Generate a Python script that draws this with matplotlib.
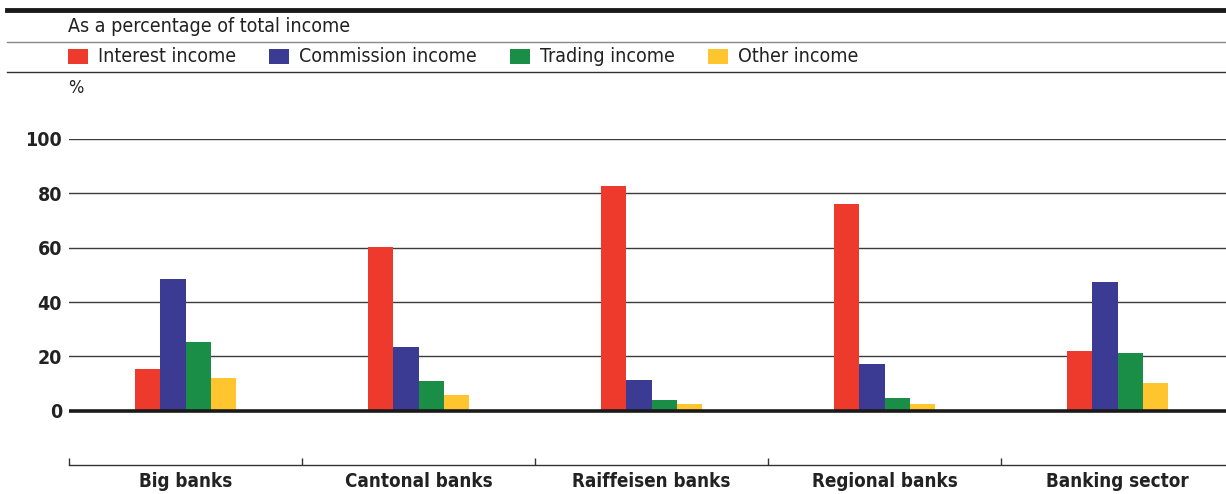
import matplotlib
matplotlib.use('Agg')
import matplotlib.pyplot as plt
from matplotlib.lines import Line2D
from matplotlib.patches import Rectangle
import numpy as np

plt.rcParams['font.family'] = ['DejaVu Sans']
plt.rcParams['font.stretch'] = 'condensed'

categories = ['Big banks', 'Cantonal banks', 'Raiffeisen banks', 'Regional banks', 'Banking sector']
series_names = ['Interest income', 'Commission income', 'Trading income', 'Other income']
interest = [15.3, 60.4, 82.6, 76.0, 22.0]
commission = [48.3, 23.5, 11.4, 17.2, 47.3]
trading = [25.3, 11.0, 4.0, 4.8, 21.3]
other = [12.0, 5.9, 2.5, 2.6, 10.0]
colors = ['#ee3a2c', '#3b3b93', '#1a8e47', '#ffc52f']
y_ticks = [0, 20, 40, 60, 80, 100]

W, H = 1226, 494
fig = plt.figure(figsize=(W / 100, H / 100), dpi=100)


def fx(px):
    return px / W


def fy(py):
    return 1 - py / H


# plot area: 0 at y=411, 100 at y=139, category axis at -20
ax = fig.add_axes([fx(69), fy(465), fx(1234 - 69), fy(139) - fy(465)])
ax.set_xlim(-0.5, len(categories) - 0.5)
ax.set_ylim(-20, 100)

x = np.arange(len(categories))
width = 0.109
for i, (vals, c) in enumerate(zip([interest, commission, trading, other], colors)):
    ax.bar(x + (i - 1.5) * width, vals, width, color=c, linewidth=0, zorder=3)

for v in y_ticks[1:]:
    ax.axhline(v, color='#3c3c3c', lw=1.0, zorder=1)
ax.axhline(0, color='#1a1a1a', lw=2.6, zorder=4)

for s in ['top', 'right', 'left']:
    ax.spines[s].set_visible(False)
ax.spines['bottom'].set_color('#333333')
ax.spines['bottom'].set_linewidth(1.0)

ax.set_yticks(y_ticks)
ax.set_yticklabels([str(v) for v in y_ticks], fontsize=14, fontweight='bold', color='#222222')
ax.tick_params(axis='y', length=0, pad=5)

ax.set_xticks(x)
ax.set_xticklabels(categories, fontsize=13.5, fontweight='bold', color='#222222')
ax.tick_params(axis='x', which='major', length=0, pad=5)
ax.set_xticks(np.arange(len(categories)) - 0.5, minor=True)
ax.tick_params(axis='x', which='minor', direction='in', length=5, width=1.0, color='#333333')

# header rules
fig.add_artist(Line2D([fx(7), 1], [fy(10), fy(10)], color='#1a1a1a', lw=3.5))
fig.add_artist(Line2D([fx(7), 1], [fy(42), fy(42)], color='#888888', lw=1.0))
fig.add_artist(Line2D([fx(7), 1], [fy(72), fy(72)], color='#333333', lw=1.0))

fig.text(fx(68), fy(27), 'As a percentage of total income', fontsize=14,
         color='#222222', va='center', ha='left')
fig.text(fx(68), fy(88), '%', fontsize=13, color='#222222', va='center', ha='left')

# legend row
renderer = fig.canvas.get_renderer()
lx = 68
for name, c in zip(series_names, colors):
    fig.add_artist(Rectangle((fx(lx), fy(64)), fx(20), fy(49) - fy(64),
                             transform=fig.transFigure, color=c, lw=0))
    t = fig.text(fx(lx + 30), fy(56), name, fontsize=14, color='#222222',
                 va='center', ha='left')
    bb = t.get_window_extent(renderer)
    lx = bb.x1 + 33

fig.savefig('out.png', dpi=100)
